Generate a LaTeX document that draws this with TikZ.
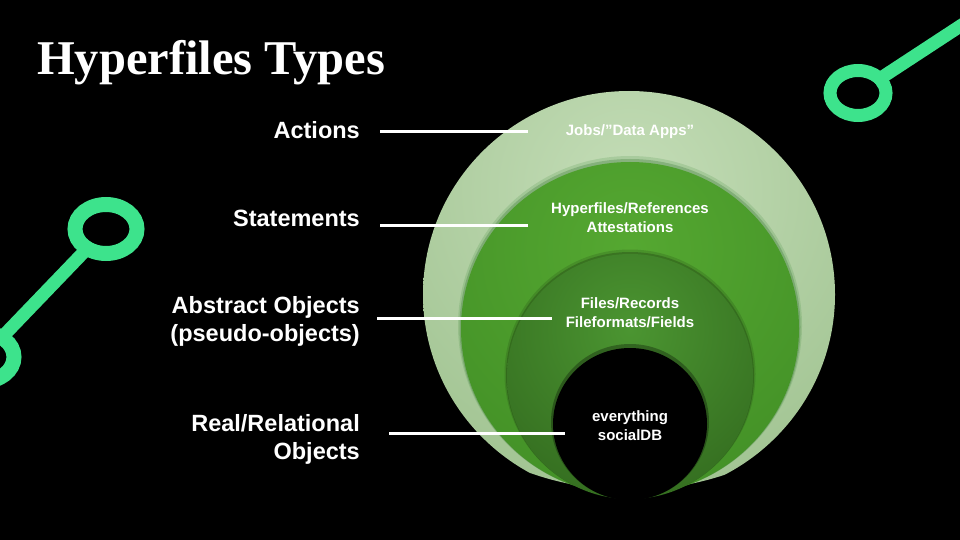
\documentclass[tikz,border=0pt]{standalone}
\usepackage{fontspec}
\setsansfont{Liberation Sans}
\newfontfamily\titlefont{Liberation Serif}
\definecolor{neon}{HTML}{3DE38C}
\definecolor{paleA}{HTML}{C4DDB7}
\definecolor{paleB}{HTML}{A3C594}
\definecolor{midA}{HTML}{55A831}
\definecolor{midB}{HTML}{3D8923}
\definecolor{deepA}{HTML}{4B9531}
\definecolor{deepB}{HTML}{2B5D19}
\tikzset{
  lbl/.style={font=\sffamily\bfseries\fontsize{23.5}{28}\selectfont, text=white, align=right, anchor=east, inner sep=0pt},
  inlbl/.style={font=\sffamily\bfseries\fontsize{15}{19}\selectfont, text=white, align=center, inner sep=0pt},
  lead/.style={white, line width=3pt},
  hook/.style={neon, line width=13pt}
}

\begin{document}
\begin{tikzpicture}[x=1pt,y=-1pt]
\useasboundingbox (0,0) rectangle (960,540);
\fill[black] (0,0) rectangle (960,540);
\clip (0,0) rectangle (960,540);

% green hooks
\draw[hook] (858,93) -- (1000,0); \fill[black] (858,93) ellipse (21 and 16.5); \draw[hook] (858,93) ellipse (28 and 22.5);
\draw[hook] (106,229) -- (-17,357); \fill[black] (106,229) ellipse (24 and 17); \fill[black] (-17,357) ellipse (24 and 17);
\draw[hook,line width=15pt] (106,229) ellipse (31 and 24.5); \draw[hook,line width=15pt] (-17,357) ellipse (31 and 24.5);

% title
\node[anchor=base west, inner sep=0pt, text=white, font=\titlefont\bfseries\fontsize{48.5}{52}\selectfont] (title) at (37,75) {Hyperfiles Types};

% rings
\begin{scope} \clip (629,294.5) ellipse (206 and 203.5); \shade[inner color=paleA, outer color=paleB] (630,190) circle (300); \end{scope}
\fill[black!60!green,opacity=.12] (630,325.5) ellipse (172 and 169.5); \fill[black!70!green,opacity=.2] (630,327) ellipse (170.5 and 168);
\begin{scope} \clip (630,328.5) ellipse (169 and 166.5); \shade[inner color=midA, outer color=midB] (630,250) circle (340); \end{scope}
\fill[black,opacity=.12] (630,374) ellipse (125.5 and 124.5); \fill[black,opacity=.2] (630,375.5) ellipse (124 and 123.5);
\begin{scope} \clip (630,376.5) ellipse (123 and 122.5); \shade[inner color=deepA, outer color=deepB] (630,330) circle (250); \end{scope}
\fill[black,opacity=.3] (630,422) ellipse (79 and 78);
\fill[black] (630,424) ellipse (77 and 76);

% inner texts
\node[inlbl] (jobs) at (630,132) {Jobs/''Data Apps''};
\node[inlbl] (refs) at (630,218) {Hyperfiles/References\\Attestations};
\node[inlbl] (files) at (630,313) {Files/Records\\Fileformats/Fields};
\node[inlbl] (every) at (630,426) {everything\\socialDB};

% labels and leads
\node[lbl] (act) at (360,130) {Actions};
\node[lbl] (stmt) at (360,218.5) {Statements};
\node[lbl] (abst) at (360,321) {Abstract Objects\\(pseudo-objects)};
\node[lbl] (real) at (360,439) {Real/Relational\\Objects};
\draw[lead] ([xshift=20pt,yshift=-2pt]act.east) -- ++(148,0);
\draw[lead] ([xshift=20pt,yshift=-6.5pt]stmt.east) -- ++(148,0);
\draw[lead] ([xshift=17pt,yshift=3pt]abst.east) -- ++(175,0);
\draw[lead] ([xshift=29pt,yshift=6pt]real.east) -- ++(176,0);
\end{tikzpicture}
\end{document}
